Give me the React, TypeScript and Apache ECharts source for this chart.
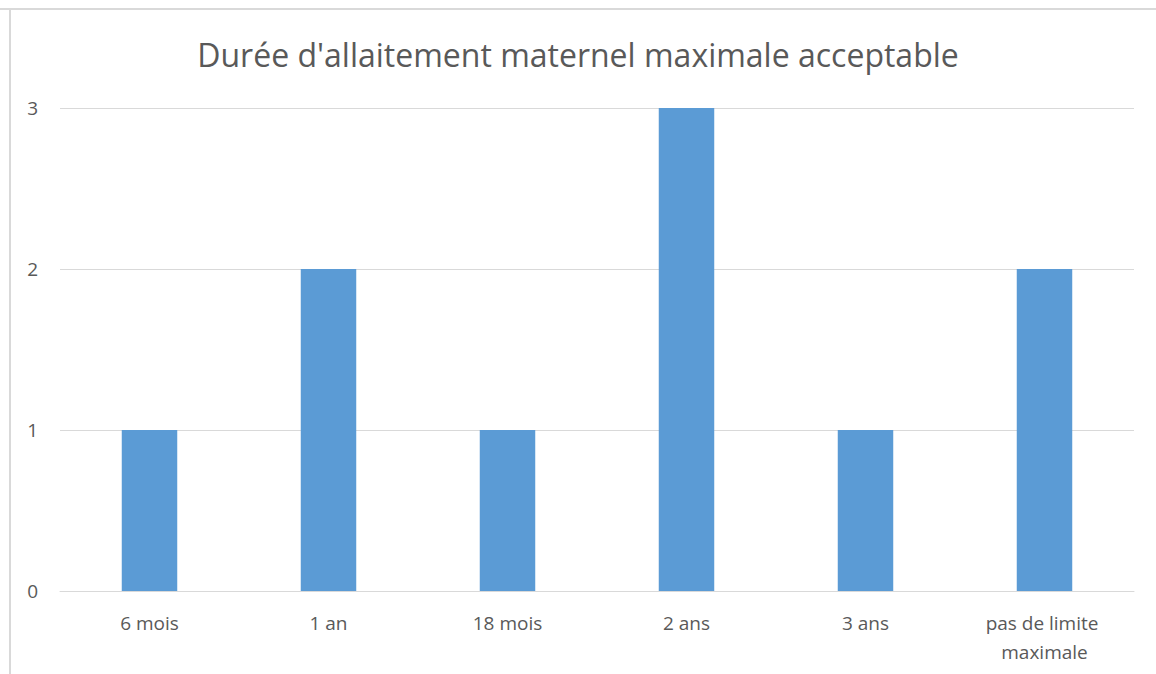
import React, { useEffect, useRef } from "react";
import * as echarts from "echarts";

const categories = ["6 mois", "1 an", "18 mois", "2 ans", "3 ans", "pas de limite maximale"];
const values = [1, 2, 1, 3, 1, 2];
const yTicks = [0, 1, 2, 3];
const titleText = "Durée d'allaitement maternel maximale acceptable";

export default function App() {
  const ref = useRef<HTMLDivElement>(null);
  useEffect(() => {
    document.body.style.margin = "0";
    const chart = echarts.init(ref.current!, null, { renderer: "svg" });
    chart.setOption({
      animation: false,
      backgroundColor: "#ffffff",
      title: {
        text: titleText,
        left: "center",
        top: 33,
        textStyle: { fontFamily: "Open Sans", fontSize: 32, fontWeight: "normal", color: "#595959" },
      },
      graphic: [
        { type: "line", shape: { x1: 0, y1: 9, x2: 1156, y2: 9 }, style: { stroke: "#d9d9d9", lineWidth: 2 } },
        { type: "line", shape: { x1: 10, y1: 9, x2: 10, y2: 674 }, style: { stroke: "#d9d9d9", lineWidth: 2 } },
      ],
      grid: { left: 60, right: 22, top: 108, bottom: 83, containLabel: false },
      xAxis: {
        type: "category",
        data: categories,
        axisLine: { show: true, lineStyle: { color: "#d9d9d9", width: 1 } },
        axisTick: { show: false },
        axisLabel: {
          interval: 0,
          margin: 17,
          color: "#595959",
          fontFamily: "Open Sans",
          fontSize: 19,
          lineHeight: 29,
          width: 150,
          overflow: "break",
        },
      },
      yAxis: {
        type: "value",
        min: yTicks[0],
        max: yTicks[yTicks.length - 1],
        interval: 1,
        axisLine: { show: false },
        axisTick: { show: false },
        splitLine: { lineStyle: { color: "#d9d9d9", width: 1 } },
        axisLabel: { margin: 22, color: "#595959", fontFamily: "Open Sans", fontSize: 19 },
      },
      series: [
        {
          type: "bar",
          data: values,
          barWidth: "31%",
          itemStyle: { color: "#5b9bd5" },
        },
      ],
    });
    return () => chart.dispose();
  }, []);
  return <div ref={ref} style={{ width: 1156, height: 674 }} />;
}
